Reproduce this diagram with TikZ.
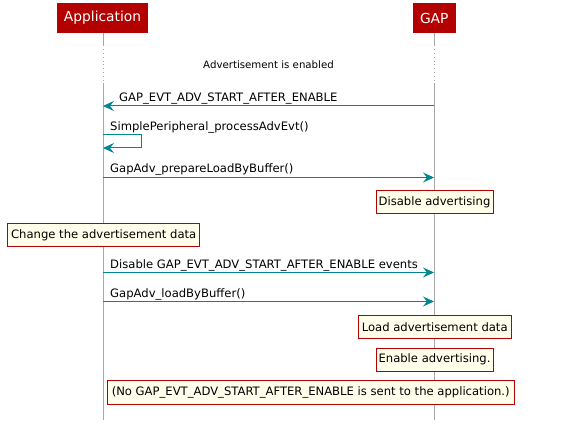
\documentclass[tikz,border=0pt]{standalone}
\usepackage{fontspec}
\setmainfont{DejaVu Sans}
\usetikzlibrary{arrows.meta}
\definecolor{hdr}{HTML}{B30000}
\definecolor{msg}{HTML}{00878F}
\definecolor{life}{HTML}{A8A8A8}
\definecolor{notebg}{HTML}{FEFEEA}
\definecolor{notebd}{HTML}{B30000}
\tikzset{
  actor/.style={fill=hdr, text=white, inner sep=0pt, font=\fontsize{13.8}{16}\selectfont, minimum height=30pt},
  lifeline/.style={draw=life, line width=0.9pt},
  lifedot/.style={draw=life, line width=0.9pt, dash pattern=on 0.9pt off 3pt},
  message/.style={draw=msg, line width=1pt, -{Stealth[length=11pt, width=10pt, inset=4pt]}},
  mlabel/.style={anchor=base west, inner sep=0pt, font=\fontsize{11.6}{14}\selectfont},
  note/.style={draw=notebd, fill=notebg, line width=0.9pt, inner sep=0pt, font=\fontsize{11.6}{14}\selectfont},
}
\begin{document}
\begin{tikzpicture}[x=1pt, y=-1pt]
\useasboundingbox (0,0) rectangle (577,430);
% actors
\node[actor, minimum width=91pt] (app) at (102.5,18) {Application};
\node[actor, minimum width=42.5pt] (gap) at (434.25,18) {GAP};
% lifeline coordinates
\coordinate (a1) at (103,33);
\coordinate (a2) at (103,45);
\coordinate (a3) at (103,83);
\coordinate (a4) at (103,420);
\coordinate (g1) at (434,33);
\coordinate (g2) at (434,45);
\coordinate (g3) at (434,83);
\coordinate (g4) at (434,420);
\draw[lifeline] (a1) -- (a2);
\draw[lifedot] (a2) -- (a3);
\draw[lifeline] (a3) -- (a4);
\draw[lifeline] (g1) -- (g2);
\draw[lifedot] (g2) -- (g3);
\draw[lifeline] (g3) -- (g4);
% divider text
\node[inner sep=0pt, font=\fontsize{10.2}{12}\selectfont] (div) at (268.5,65) {Advertisement is enabled};
% message 1
\coordinate (m1g) at (434,106);
\coordinate (m1a) at (103,106);
\draw[message] (m1g) -- (m1a);
\node[mlabel] (l1) at (119,101.5) {GAP\_EVT\_ADV\_START\_AFTER\_ENABLE};
% self message
\coordinate (s1) at (103,135);
\coordinate (s2) at (141,135);
\coordinate (s3) at (141,148);
\coordinate (s4) at (103,148);
\draw[message] (s1) -- (s2) -- (s3) -- (s4);
\node[mlabel] (l2) at (110,130.5) {SimplePeripheral\_processAdvEvt()};
% message 3
\coordinate (m3a) at (103,177.5);
\coordinate (m3g) at (434,177.5);
\draw[message] (m3a) -- (m3g);
\node[mlabel] (l3) at (110,173) {GapAdv\_prepareLoadByBuffer()};
% notes
\node[note, minimum width=117pt, minimum height=22.5pt] (n1) at (434.5,202) {Disable advertising};
\node[note, minimum width=192pt, minimum height=22.5pt] (n2) at (103.7,235) {Change the advertisement data};
% message 4
\coordinate (m4a) at (103,272.5);
\coordinate (m4g) at (434,272.5);
\draw[message] (m4a) -- (m4g);
\node[mlabel] (l4) at (110,268) {Disable GAP\_EVT\_ADV\_START\_AFTER\_ENABLE events};
% message 5
\coordinate (m5a) at (103,301.5);
\coordinate (m5g) at (434,301.5);
\draw[message] (m5a) -- (m5g);
\node[mlabel] (l5) at (110,297) {GapAdv\_loadByBuffer()};
% notes
\node[note, minimum width=153pt, minimum height=23pt] (n3) at (434.7,326.8) {Load advertisement data};
\node[note, minimum width=117pt, minimum height=22.7pt] (n4) at (434.5,359.7) {Enable advertising.};
\node[note, minimum width=407pt, minimum height=23.3pt] (n5) at (310.7,392.3) {(No GAP\_EVT\_ADV\_START\_AFTER\_ENABLE is sent to the application.)};
\end{tikzpicture}
\end{document}
